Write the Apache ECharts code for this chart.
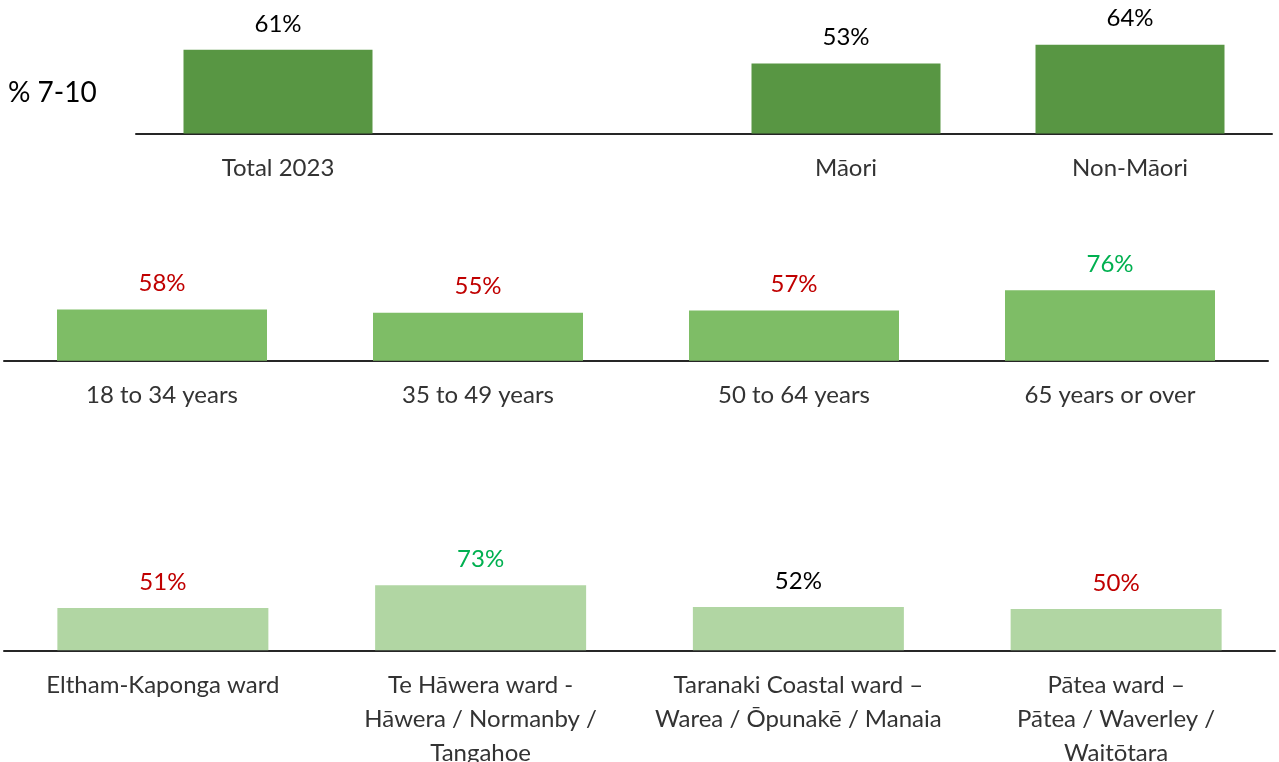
<!DOCTYPE html>
<html>
<head>
<meta charset="utf-8">
<style>
  html, body { margin: 0; padding: 0; background: #fff; }
  #chart { width: 1279px; height: 762px; }
</style>
<script src="https://cdn.jsdelivr.net/npm/echarts@6/dist/echarts.min.js"></script>
</head>
<body>
<div id="chart"></div>
<script>
// row 1 - total and ethnicity
var groupCats = ['Total 2023', '', 'Māori', 'Non-Māori'];
var groupVals = [61, '-', 53, 64];

// row 2 - age
var ageCats = ['18 to 34 years', '35 to 49 years', '50 to 64 years', '65 years or over'];
var ageVals = [58, 55, 57, 76];

// row 3 - ward
var wardCats = [
    'Eltham-Kaponga ward',
    'Te Hāwera ward -\nHāwera / Normanby /\nTangahoe',
    'Taranaki Coastal ward –\nWarea / Ōpunakē / Manaia',
    'Pātea ward –\nPātea / Waverley /\nWaitōtara'
];
var wardVals = [51, 73, 52, 50];

// label colours (red = lower, green = higher)
var RED = '#C00000', GREEN = '#00B050', BLACK = '#000000';
var groupLabelColors = [BLACK, BLACK, BLACK, BLACK];
var ageLabelColors = [RED, RED, RED, GREEN];
var wardLabelColors = [RED, GREEN, BLACK, RED];

var FONT = 'Lato';
var chart = echarts.init(document.getElementById('chart'));

function xAxisOf(idx, cats) {
    return {
        gridIndex: idx,
        type: 'category',
        data: cats,
        axisTick: { show: false },
        axisLine: { lineStyle: { color: '#262626', width: 2 } },
        axisLabel: {
            interval: 0,
            margin: 18,
            color: '#333333',
            fontFamily: FONT,
            fontSize: 24,
            lineHeight: 34
        }
    };
}

function yAxisOf(idx, min, max) {
    return {
        gridIndex: idx,
        type: 'value',
        min: min,
        max: max,
        show: false,
        splitLine: { show: false }
    };
}

function seriesOf(idx, vals, color, width, labelColors) {
    return {
        type: 'bar',
        xAxisIndex: idx,
        yAxisIndex: idx,
        barWidth: width,
        itemStyle: { color: color },
        label: {
            show: true,
            position: 'top',
            distance: 14,
            fontFamily: FONT,
            fontSize: 24,
            formatter: '{c}%'
        },
        data: vals.map(function (v, i) {
            return { value: v, label: { color: labelColors[i] } };
        })
    };
}

chart.setOption({
    animation: false,
    graphic: [{
        type: 'text',
        left: 8,
        top: 79,
        style: { text: '% 7-10', fontFamily: FONT, fontSize: 28, fill: '#000' }
    }],
    grid: [
        { left: 136, width: 1136, top: 34.5, height: 98.9, outerBoundsMode: 'none' },
        { left: 4, width: 1264, top: 264.7, height: 96, outerBoundsMode: 'none' },
        { left: 4, width: 1271, top: 557.4, height: 92.9, outerBoundsMode: 'none' }
    ],
    xAxis: [xAxisOf(0, groupCats), xAxisOf(1, ageCats), xAxisOf(2, wardCats)],
    yAxis: [yAxisOf(0, 12, 70), yAxisOf(1, 10, 100), yAxisOf(2, 10, 100)],
    series: [
        seriesOf(0, groupVals, '#589643', 189, groupLabelColors),
        seriesOf(1, ageVals, '#7EBD66', 210, ageLabelColors),
        seriesOf(2, wardVals, '#B1D6A3', 211, wardLabelColors)
    ]
});
</script>
</body>
</html>
